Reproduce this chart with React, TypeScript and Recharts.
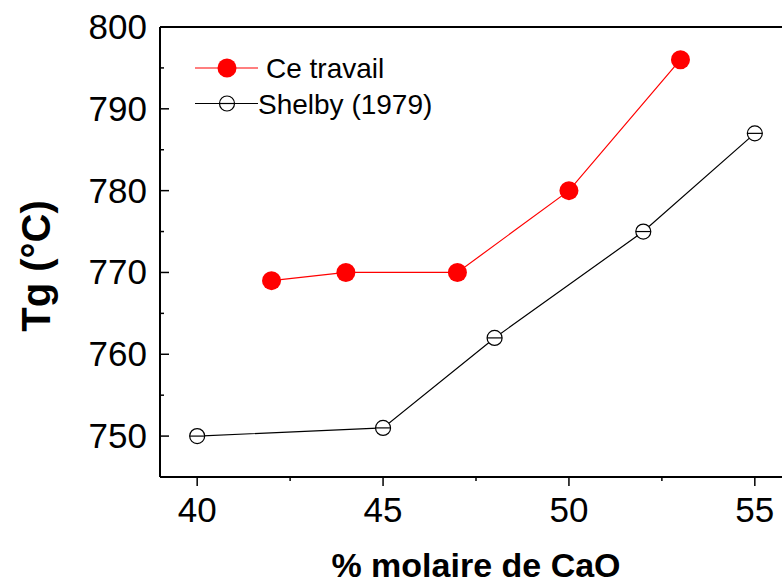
import { LineChart, Line, XAxis, YAxis, Legend } from 'recharts';

// CaO content (mol %) and glass transition temperature (°C)
const caoCeTravail = [42, 44, 47, 50, 53];
const tgCeTravail = [769, 770, 770, 780, 796];
const caoShelby = [40, 45, 48, 52, 55];
const tgShelby = [750, 751, 762, 775, 787];

const xTicks = [40, 42.5, 45, 47.5, 50, 52.5, 55];
const yTicks = [750, 755, 760, 765, 770, 775, 780, 785, 790, 795, 800];

const ceTravail = caoCeTravail.map((x, i) => ({ x, tg: tgCeTravail[i] }));
const shelby = caoShelby.map((x, i) => ({ x, tg: tgShelby[i] }));

const FONT = '"Liberation Sans", Arial, sans-serif';

const isMajorX = (v: number) => v % 5 === 0;
const isMajorY = (v: number) => v % 10 === 0;

function BottomTick({ x, y, payload }: any) {
  const major = isMajorX(payload.value);
  return (
    <g>
      <line x1={x} x2={x} y1={y} y2={y + (major ? 9 : 4)} stroke="#000" strokeWidth={1.5} />
      {major && (
        <text x={x} y={y + 45} textAnchor="middle" fontSize={35} fontFamily={FONT} fill="#000">
          {payload.value}
        </text>
      )}
    </g>
  );
}

function TopTick({ x, y, payload }: any) {
  const major = isMajorX(payload.value);
  return <line x1={x} x2={x} y1={y} y2={y + (major ? 9 : 5)} stroke="#000" strokeWidth={1.5} />;
}

function LeftTick({ x, y, payload }: any) {
  const major = isMajorY(payload.value);
  return (
    <g>
      <line x1={x} x2={x + (major ? 9 : 4)} y1={y} y2={y} stroke="#000" strokeWidth={1.5} />
      {major && (
        <text x={x - 13} y={y + 12} textAnchor="end" fontSize={35} fontFamily={FONT} fill="#000">
          {payload.value}
        </text>
      )}
    </g>
  );
}

function RedDot({ cx, cy }: any) {
  return <circle cx={cx} cy={cy} r={9.5} fill="#ff0000" />;
}

function BarredDot({ cx, cy }: any) {
  const r = 7.5;
  return (
    <g>
      <circle cx={cx} cy={cy} r={r} fill="#fff" stroke="#000" strokeWidth={1.2} />
      <line x1={cx - r} x2={cx + r} y1={cy} y2={cy} stroke="#000" strokeWidth={1.2} />
    </g>
  );
}

function LegendBox() {
  return (
    <svg width={280} height={90} style={{ overflow: 'visible' }}>
      <line x1={10} x2={73} y1={28} y2={28} stroke="#ff0000" strokeWidth={1.2} />
      <RedDot cx={42} cy={28} />
      <text x={81} y={38} fontSize={28} fontFamily={FONT} fill="#000">Ce travail</text>
      <line x1={10} x2={73} y1={63.5} y2={63.5} stroke="#000" strokeWidth={1.2} />
      <BarredDot cx={42} cy={63.5} />
      <text x={73} y={73.5} fontSize={28} fontFamily={FONT} fill="#000">Shelby (1979)</text>
    </svg>
  );
}

export default function App() {
  return (
    <div style={{ position: 'absolute', left: 0, top: 0, width: 782, height: 584, overflow: 'hidden', background: '#fff' }}>
      <LineChart width={820} height={584} margin={{ top: 0, right: 28, bottom: 0, left: 0 }}>
        <XAxis
          dataKey="x"
          type="number"
          domain={[39, 56]}
          ticks={xTicks}
          interval={0}
          height={107}
          tickSize={0}
          tickMargin={0}
          tickLine={false}
          tick={BottomTick}
          axisLine={{ stroke: '#000', strokeWidth: 2 }}
          label={(props: any) => {
            const vb = props.viewBox;
            return (
              <text x={vb.x + vb.width / 2} y={vb.y + 100} textAnchor="middle" fontSize={34} fontWeight="bold" fontFamily={FONT} fill="#000">
                % molaire de CaO
              </text>
            );
          }}
        />
        <XAxis
          xAxisId="top"
          dataKey="x"
          type="number"
          orientation="top"
          domain={[39, 56]}
          ticks={xTicks}
          interval={0}
          height={27}
          tickSize={0}
          tickMargin={0}
          tickLine={false}
          tick={TopTick}
          axisLine={{ stroke: '#000', strokeWidth: 2 }}
        />
        <YAxis
          type="number"
          domain={[745, 800]}
          ticks={yTicks}
          interval={0}
          width={160}
          tickSize={0}
          tickMargin={0}
          tickLine={false}
          tick={LeftTick}
          axisLine={{ stroke: '#000', strokeWidth: 2 }}
          label={() => (
            <text x={50} y={266} transform="rotate(-90, 50, 266)" textAnchor="middle" fontSize={40} fontWeight="bold" fontFamily={FONT} fill="#000">
              Tg (°C)
            </text>
          )}
        />
        <Legend
          layout="horizontal"
          verticalAlign="middle"
          align="center"
          content={() => <LegendBox />}
          wrapperStyle={{ position: 'absolute', left: 185, top: 40, width: 280, height: 90 }}
        />
        <Line
          data={shelby}
          dataKey="tg"
          type="linear"
          stroke="#000"
          strokeWidth={1.2}
          dot={BarredDot}
          activeDot={false}
          isAnimationActive={false}
        />
        <Line
          data={ceTravail}
          dataKey="tg"
          type="linear"
          stroke="#ff0000"
          strokeWidth={1.2}
          dot={RedDot}
          activeDot={false}
          isAnimationActive={false}
        />
      </LineChart>
    </div>
  );
}
